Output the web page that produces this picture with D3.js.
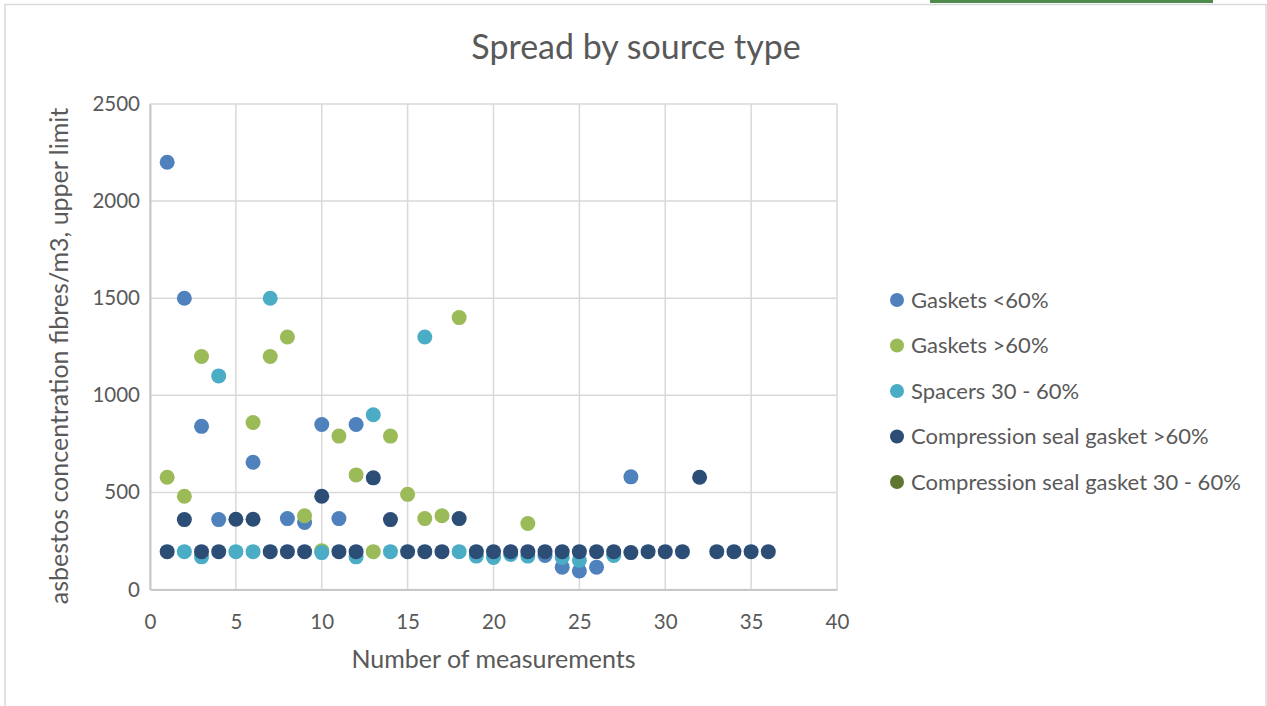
<!DOCTYPE html>
<html>
<head>
<meta charset="utf-8">
<script src="https://cdn.jsdelivr.net/npm/d3@7"></script>
<style>
  html, body { margin: 0; padding: 0; background: #fff; }
  svg { display: block; font-family: Lato, "Open Sans", sans-serif; }
</style>
</head>
<body>
<svg id="chart" width="1267" height="706"></svg>
<script>
///// data — [measurement no., fibres/m3 upper limit]
const gasketsLow = [
  [1, 2200], [2, 1500], [3, 840], [4, 360], [6, 655], [8, 365], [9, 345],
  [10, 850], [11, 365], [12, 850], [23, 175], [24, 115], [25, 95], [26, 115], [28, 580]
];
const gasketsHigh = [
  [1, 578], [2, 480], [3, 1200], [6, 860], [7, 1200], [8, 1300], [9, 380], [10, 200],
  [11, 790], [12, 590], [13, 195], [14, 790], [15, 490], [16, 365], [17, 380], [18, 1400], [22, 340]
];
const spacers = [
  [2, 195], [3, 168], [4, 1100], [5, 195], [6, 195], [7, 1500], [10, 190], [12, 168],
  [13, 900], [14, 195], [16, 1300], [18, 195], [19, 172], [20, 165], [21, 180], [22, 172],
  [24, 165], [25, 150], [27, 175]
];
const compHigh = [
  [1, 195], [2, 360], [3, 195], [4, 195], [5, 362], [6, 362], [7, 195], [8, 195], [9, 195],
  [10, 480], [11, 195], [12, 195], [13, 575], [14, 360], [15, 195], [16, 195], [17, 195],
  [18, 365], [19, 195], [20, 195], [21, 195], [22, 195], [23, 195], [24, 195], [25, 195],
  [26, 195], [27, 195], [28, 190], [29, 195], [30, 195], [31, 195], [32, 578], [33, 195],
  [34, 195], [35, 195], [36, 195]
];
const compMid = [];

const SERIES_NAMES  = ['Gaskets <60%', 'Gaskets >60%', 'Spacers 30 - 60%',
                       'Compression seal gasket >60%', 'Compression seal gasket 30 - 60%'];
const SERIES_COLORS = ['#4f81bd', '#9bbb59', '#4bacc6', '#2c4d75', '#5f7530'];
const X_TICKS = [0, 5, 10, 15, 20, 25, 30, 35, 40];
const Y_TICKS = [0, 500, 1000, 1500, 2000, 2500];

const series = [gasketsLow, gasketsHigh, spacers, compHigh, compMid]
  .map((pts, i) => ({ name: SERIES_NAMES[i], color: SERIES_COLORS[i], pts }));

///// layout
const svg = d3.select('#chart');
const M = { left: 150, top: 104, right: 837, bottom: 589.5 };
const TXT = '#595959', GRID = '#d9d9d9';

// frame + tab strip
svg.append('rect').attr('x', 930).attr('y', 0).attr('width', 283).attr('height', 3).attr('fill', '#4f8b4d');
svg.append('rect').attr('x', 5).attr('y', 4.5).attr('width', 1261).attr('height', 720)
   .attr('fill', 'none').attr('stroke', GRID).attr('stroke-width', 1.5);

const x = d3.scaleLinear([0, 40], [M.left, M.right]);
const y = d3.scaleLinear([0, 2500], [M.bottom, M.top]);

// grid
svg.append('g').selectAll('line').data(Y_TICKS).join('line')
   .attr('x1', M.left).attr('x2', M.right)
   .attr('y1', d => y(d)).attr('y2', d => y(d))
   .attr('stroke', GRID).attr('stroke-width', 1.5);
svg.append('g').selectAll('line').data(X_TICKS).join('line')
   .attr('y1', M.top).attr('y2', M.bottom)
   .attr('x1', d => x(d)).attr('x2', d => x(d))
   .attr('stroke', GRID).attr('stroke-width', 1.5);

// axes (labels only, Excel style)
const xAxis = svg.append('g')
   .attr('transform', `translate(0,${M.bottom})`)
   .call(d3.axisBottom(x).tickValues(X_TICKS).tickFormat(d3.format('d')).tickSize(0).tickPadding(37));
const yAxis = svg.append('g')
   .attr('transform', `translate(${M.left},0)`)
   .call(d3.axisLeft(y).tickValues(Y_TICKS).tickFormat(d3.format('d')).tickSize(0).tickPadding(10));
[xAxis, yAxis].forEach(g => {
  g.select('.domain').attr('stroke', '#c8c8c8').attr('stroke-width', 2);
  g.selectAll('text').attr('fill', TXT).attr('font-size', 20.5).attr('font-family', 'Lato');
});
xAxis.selectAll('text').attr('dy', '0.1em');

// titles
svg.append('text').attr('x', 636).attr('y', 59).attr('text-anchor', 'middle')
   .attr('font-size', 34).attr('fill', TXT).text('Spread by source type');
svg.append('text').attr('x', (M.left + M.right) / 2).attr('y', 668).attr('text-anchor', 'middle')
   .attr('font-size', 25).attr('fill', TXT).text('Number of measurements');
svg.append('text')
   .attr('transform', `translate(68,356) rotate(-90)`)
   .attr('text-anchor', 'middle').attr('font-size', 25).attr('fill', TXT)
   .text('asbestos concentration fibres/m3, upper limit');

// points — later series on top
svg.append('g').selectAll('g').data(series).join('g')
   .attr('fill', d => d.color)
   .selectAll('circle').data(d => d.pts).join('circle')
     .attr('cx', d => x(d[0]))
     .attr('cy', d => y(d[1]))
     .attr('r', 7.5);

// legend
const leg = svg.append('g').selectAll('g').data(series).join('g')
   .attr('transform', (d, i) => `translate(897,${300 + i * 45.5})`);
leg.append('circle').attr('r', 7).attr('fill', d => d.color);
leg.append('text').attr('x', 14).attr('dy', '0.35em')
   .attr('font-size', 22).attr('fill', TXT).text(d => d.name);
</script>
</body>
</html>
